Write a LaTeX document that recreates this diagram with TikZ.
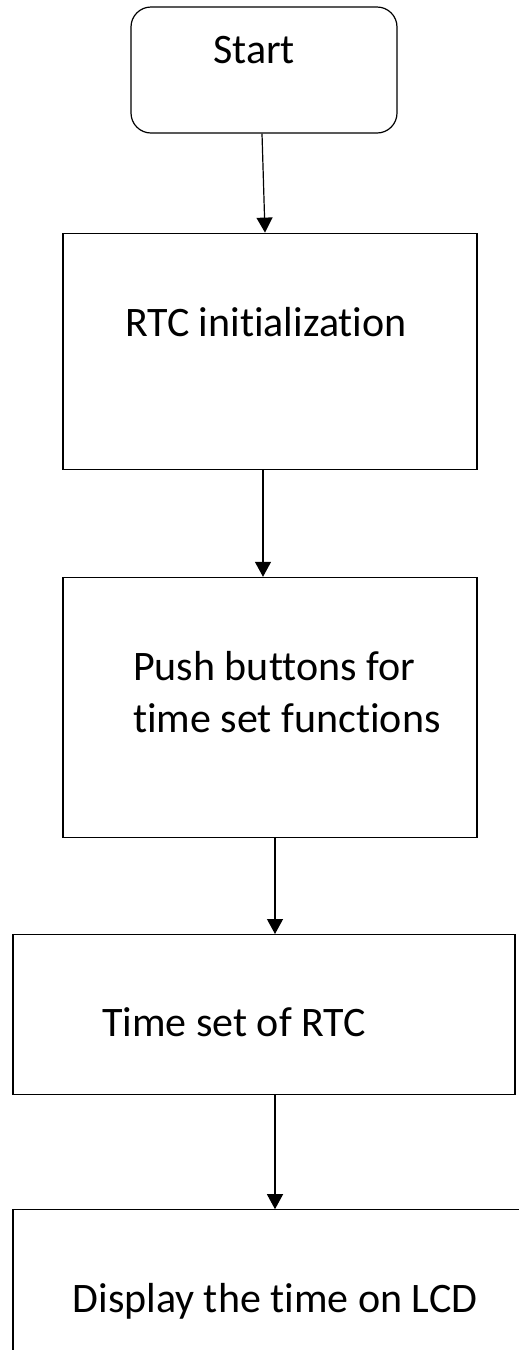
\documentclass[tikz,border=0pt]{standalone}
\usepackage{fontspec}
\setmainfont[Ligatures=NoCommon]{Carlito}
\usepackage{tikz}
\usetikzlibrary{arrows.meta,positioning}

\begin{document}
\begin{tikzpicture}[
    x=1pt,y=1pt,
    every node/.style={font=\fontsize{42}{52}\selectfont},
    box/.style={draw,line width=1.2pt,minimum width=414pt,minimum height=236pt,inner sep=0pt},
    lbl/.style={inner sep=0pt,align=left},
    arr/.style={-{Triangle[length=15pt,width=16pt]},line width=1.2pt}
]
\clip (0,0) rectangle (519,-1350);
\node[box,rounded corners=20pt,minimum width=266pt,minimum height=126pt] (start) at (264,-70) {};
\node[box,below=99pt of start,xshift=6pt] (rtc) {};
\node[box,below=107pt of rtc,minimum height=260pt] (push) {};
\node[box,below=96pt of push,xshift=-6pt,minimum width=502pt,minimum height=160pt] (tset) {};
\node[box,below=114pt of tset,xshift=15pt,minimum width=532pt,minimum height=220pt] (disp) {};

\node[lbl,anchor=base] (starttxt) at ([xshift=-10pt,yshift=7pt]start.center) {Start};
\node[lbl,anchor=base] (rtctxt) at ([xshift=-4pt,yshift=15pt]rtc.center) {RTC initialization};
\node[lbl,anchor=base west] (pushtxt) at ([xshift=-137pt,yshift=-25pt]push.center) {Push buttons for\\time set functions};
\node[lbl,anchor=base] (tsettxt) at ([xshift=-30pt,yshift=-22pt]tset.center) {Time set of RTC};
\node[lbl,anchor=base] (disptxt) at ([xshift=-4pt,yshift=-103pt]disp.north) {Display the time on LCD};

\draw[arr] ([xshift=-2pt]start.south) -- ([xshift=-5pt]rtc.north);
\draw[arr] ([xshift=-7pt]rtc.south) -- ([xshift=-7pt]push.north);
\draw[arr] ([xshift=5pt]push.south) -- ([xshift=11pt]tset.north);
\draw[arr] ([xshift=11pt]tset.south) -- ([xshift=-4pt]disp.north);
\end{tikzpicture}
\end{document}
